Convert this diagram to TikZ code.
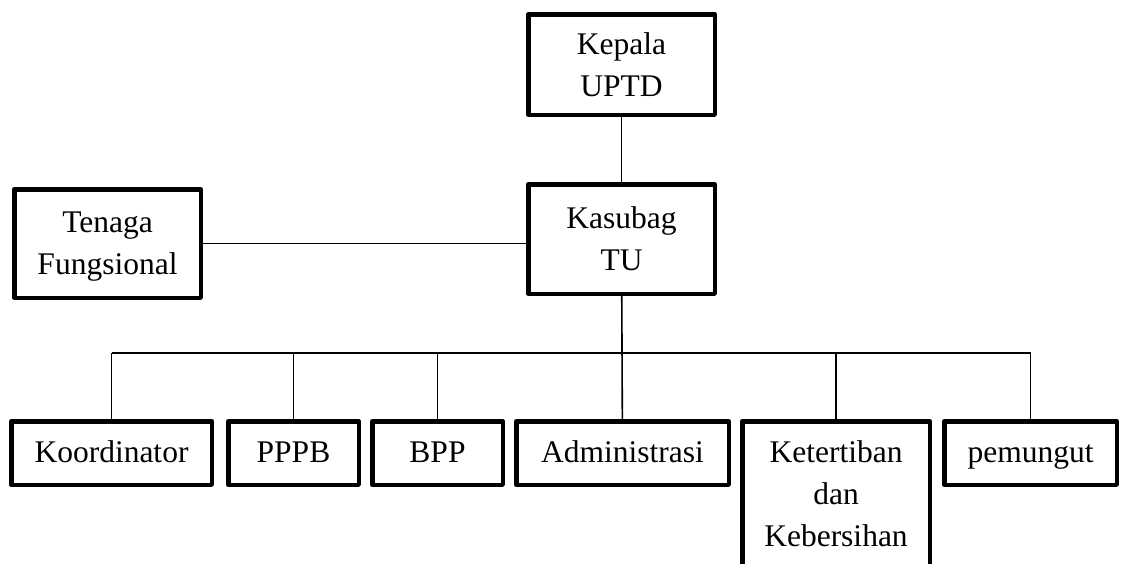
\documentclass[tikz,border=0pt]{standalone}
\usepackage{fontspec}
\setmainfont{Liberation Serif}
\usepackage{tikz}

\tikzset{
  unitbox/.style={draw, line width=4.5pt, line join=round, inner sep=0pt,
    align=center, font=\fontsize{31.5}{42}\selectfont},
  onerow/.style={text height=24pt, text depth=6pt},
  link/.style={line width=1.6pt}
}

\begin{document}
\begin{tikzpicture}[x=1pt, y=-1pt]
  \useasboundingbox (0,0) rectangle (1125,563);
  % top of the chart
  \node[unitbox, minimum width=186.5, minimum height=100.5] (kepala) at (621.5,64.5) {Kepala\\UPTD};
  \node[unitbox, minimum width=186.5, minimum height=109.5] (kasubag) at (621.5,239) {Kasubag\\TU};
  \node[unitbox, minimum width=186.5, minimum height=108.5, text depth=0pt] (tenaga) at (107.5,243.5) {Tenaga\\Fungsional};
  \draw[link] (kepala) -- (kasubag);
  \draw[link] (tenaga.east) -- (tenaga.east -| kasubag.west);

  % loops over the bottom boxes
  \foreach \nm/\cx/\w/\txt in {koord/111.5/200.5/Koordinator, pppb/293.5/130.5/PPPB,
      bpp/437.5/130.5/BPP, admin/622.5/212.5/Administrasi, pemungut/1030.5/172.5/pemungut}{
    \node[unitbox, onerow, minimum width=\w, minimum height=63.5] (\nm) at (\cx,453) {\txt};
  }
  \node[unitbox, minimum width=187.5, inner ysep=19.5pt, anchor=north] (tertib) at (836,419)
    {Ketertiban\\dan\\Kebersihan};

  \coordinate (bus) at (0,353);
  \draw[link] (kasubag) -- (admin);
  \draw[link] (koord.north |- bus) -- (pemungut.north |- bus);
  \foreach \nm in {koord, pppb, bpp, tertib, pemungut}{
    \draw[link] (\nm.north) -- (\nm.north |- bus);
  }
\end{tikzpicture}
\end{document}
